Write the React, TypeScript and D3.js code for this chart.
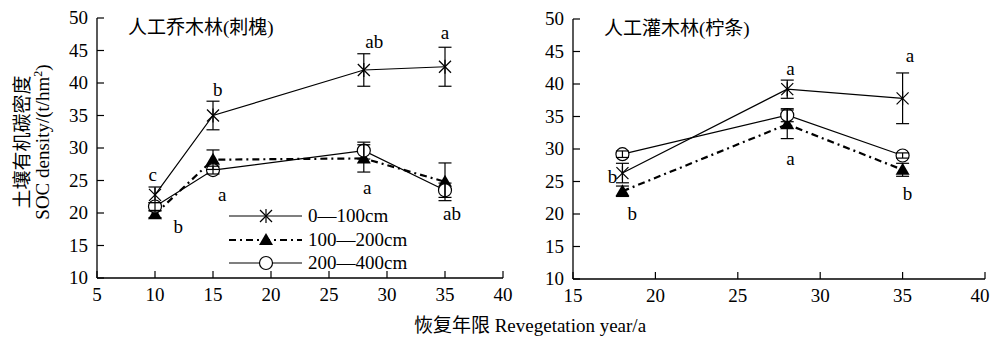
import React from 'react';
import * as d3 from 'd3';

// ---- data ----
const leftYears = [10, 15, 28, 35];
const left0to100 = [22.8, 35.0, 42.0, 42.5];
const left0to100Err = [1.2, 2.2, 2.5, 3.0];
const left100to200 = [19.8, 28.2, 28.4, 24.8];
const left100to200Err = [0.5, 1.5, 2.1, 2.9];
const left200to400 = [21.0, 26.6, 29.6, 23.5];
const left200to400Err = [0.6, 0.6, 1.3, 1.1];

const rightYears = [18, 28, 35];
const right0to100 = [26.3, 39.2, 37.8];
const right0to100Err = [1.5, 1.4, 3.9];
const right100to200 = [23.5, 33.8, 26.8];
const right100to200Err = [0.8, 2.2, 1.0];
const right200to400 = [29.2, 35.2, 29.0];
const right200to400Err = [0.5, 1.0, 0.4];

// significance letters: [year, value, letter]
const leftLetters: [number, number, string][] = [
  [9.8, 25.0, 'c'], [15.4, 38.0, 'b'], [28.9, 45.4, 'ab'], [35.0, 46.75, 'a'],
  [15.8, 21.9, 'a'], [12.0, 17.0, 'b'], [28.3, 23.0, 'a'], [35.6, 18.9, 'ab'],
];
const rightLetters: [number, number, string][] = [
  [17.4, 24.8, 'b'], [18.6, 19.1, 'b'], [28.2, 41.4, 'a'], [28.2, 27.5, 'a'],
  [35.45, 43.4, 'a'], [35.3, 22.2, 'b'],
];

const yTicks = [10, 15, 20, 25, 30, 35, 40, 45, 50];
const leftXTicks = [5, 10, 15, 20, 25, 30, 35, 40];
const rightXTicks = [15, 20, 25, 30, 35, 40];
const seriesNames = ['0—100cm', '100—200cm', '200—400cm'];

const FONT = "'Liberation Serif', 'Times New Roman', 'Noto Sans CJK SC', serif";
const DASH = '7,4,2,4';
const FS = 19;

type Kind = 'star' | 'tri' | 'circle';

const Marker = ({ x, y, kind }: { x: number; y: number; kind: Kind }) => {
  if (kind === 'star') {
    const s = 6;
    return (
      <g stroke="#000" strokeWidth={1.2}>
        <line x1={x - s} y1={y - s} x2={x + s} y2={y + s} />
        <line x1={x - s} y1={y + s} x2={x + s} y2={y - s} />
        <line x1={x} y1={y - s - 1} x2={x} y2={y + s + 1} />
      </g>
    );
  }
  if (kind === 'tri') {
    return <path d={`M${x},${y - 7}L${x + 7},${y + 5}L${x - 7},${y + 5}Z`} fill="#000" />;
  }
  return <circle cx={x} cy={y} r={6.5} fill="#fff" stroke="#000" strokeWidth={1.2} />;
};

const Panel = ({
  x, y, years, series, letters, xTicks, title,
}: {
  x: d3.ScaleLinear<number, number>;
  y: d3.ScaleLinear<number, number>;
  years: number[];
  series: { vals: number[]; err: number[]; kind: Kind; dash?: string; width: number }[];
  letters: [number, number, string][];
  xTicks: number[];
  title: string;
}) => {
  const [x0, x1] = x.range();
  const [y0, y1] = y.range();
  const line = d3.line<number>().x((_, i) => x(years[i])).y((d) => y(d));
  return (
    <g fontFamily={FONT}>
      {/* axes */}
      <line x1={x0} y1={y0} x2={x0} y2={y1} stroke="#000" strokeWidth={1.3} />
      <line x1={x0} y1={y0} x2={x1} y2={y0} stroke="#000" strokeWidth={1.3} />
      {yTicks.map((t) => (
        <g key={'y' + t}>
          <line x1={x0} x2={x0 + 7} y1={y(t)} y2={y(t)} stroke="#000" strokeWidth={1.2} />
          <text x={x0 - 9} y={y(t) + 6} textAnchor="end" fontSize={FS}>{t}</text>
        </g>
      ))}
      {xTicks.map((t) => (
        <g key={'x' + t}>
          <line x1={x(t)} x2={x(t)} y1={y0} y2={y0 - 7} stroke="#000" strokeWidth={1.2} />
          <text x={Math.min(x(t), 980)} y={y0 + 23} textAnchor="middle" fontSize={FS}>{t}</text>
        </g>
      ))}
      <text x={x0 + 31} y={y1 + 16} fontSize={19}>{title}</text>
      {/* lines */}
      {series.map((s, k) => (
        <path key={'l' + k} d={line(s.vals) || ''} fill="none" stroke="#000"
          strokeWidth={s.width} strokeDasharray={s.dash} />
      ))}
      {/* markers */}
      {series.map((s, k) =>
        s.vals.map((v, i) => <Marker key={'m' + k + i} x={x(years[i])} y={y(v)} kind={s.kind} />)
      )}
      {/* error bars */}
      {series.map((s, k) =>
        s.vals.map((v, i) => {
          const cx = x(years[i]);
          const top = y(v + s.err[i]);
          const bot = y(v - s.err[i]);
          return (
            <g key={'e' + k + i} stroke="#000" strokeWidth={1.2}>
              <line x1={cx} x2={cx} y1={top} y2={bot} />
              <line x1={cx - 6.5} x2={cx + 6.5} y1={top} y2={top} />
              <line x1={cx - 6.5} x2={cx + 6.5} y1={bot} y2={bot} />
            </g>
          );
        })
      )}
      {letters.map(([lx, ly, t], i) => (
        <text key={'t' + i} x={x(lx)} y={y(ly)} textAnchor="middle" fontSize={FS}>{t}</text>
      ))}
    </g>
  );
};

export default function App() {
  const lx = d3.scaleLinear().domain([5, 40]).range([97, 503]);
  const ly = d3.scaleLinear().domain([10, 50]).range([278, 18]);
  const rx = d3.scaleLinear().domain([15, 40]).range([573, 985]);
  const ry = d3.scaleLinear().domain([10, 50]).range([279, 19]);

  const leftSeries = [
    { vals: left0to100, err: left0to100Err, kind: 'star' as Kind, width: 1.2 },
    { vals: left100to200, err: left100to200Err, kind: 'tri' as Kind, dash: DASH, width: 2.2 },
    { vals: left200to400, err: left200to400Err, kind: 'circle' as Kind, width: 1.2 },
  ];
  const rightSeries = [
    { vals: right0to100, err: right0to100Err, kind: 'star' as Kind, width: 1.2 },
    { vals: right100to200, err: right100to200Err, kind: 'tri' as Kind, dash: DASH, width: 2.2 },
    { vals: right200to400, err: right200to400Err, kind: 'circle' as Kind, width: 1.2 },
  ];

  const legendRows = [216, 240, 263];

  return (
    <svg width={992} height={340} style={{ position: 'absolute', left: 0, top: 0, background: '#fff' }}>
      <rect width={992} height={340} fill="#fff" />
      <Panel x={lx} y={ly} years={leftYears} series={leftSeries} letters={leftLetters}
        xTicks={leftXTicks} title="人工乔木林(刺槐)" />
      <Panel x={rx} y={ry} years={rightYears} series={rightSeries} letters={rightLetters}
        xTicks={rightXTicks} title="人工灌木林(柠条)" />

      {/* legend */}
      <g fontFamily={FONT}>
        {leftSeries.map((s, i) => (
          <g key={'lg' + i}>
            <line x1={229} x2={302} y1={legendRows[i]} y2={legendRows[i]} stroke="#000"
              strokeWidth={s.width} strokeDasharray={s.dash} />
            <Marker x={266} y={legendRows[i]} kind={s.kind} />
            <text x={308} y={legendRows[i] + 6} fontSize={FS}>{seriesNames[i]}</text>
          </g>
        ))}
      </g>

      {/* axis titles */}
      <g fontFamily={FONT} fontSize={FS}>
        <text transform="translate(29,142) rotate(-90)" textAnchor="middle" fontSize={19}>土壤有机碳密度</text>
        <text transform="translate(49,142) rotate(-90)" textAnchor="middle">
          SOC density/(t/hm<tspan dy={-7} fontSize={12}>2</tspan><tspan dy={7}>)</tspan>
        </text>
        <text x={530} y={332} textAnchor="middle">恢复年限 Revegetation year/a</text>
      </g>
    </svg>
  );
}
